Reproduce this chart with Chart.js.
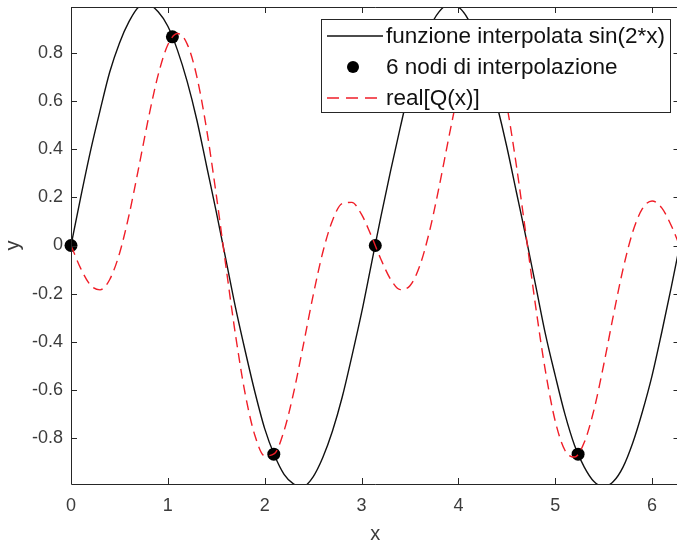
<!DOCTYPE html>
<html lang="it">
<head>
    <meta charset="UTF-8">
    <title>Interpolazione trigonometrica</title>
    <script src="https://cdn.jsdelivr.net/npm/chart.js"></script>
    <style>
        html, body {
            margin: 0;
            padding: 0;
            background: #fff;
            overflow: hidden;
        }
        #plot {
            display: block;
        }
    </style>
</head>
<body>
    <canvas id="plot" width="686" height="544"></canvas>

    <script>
        // sample positions read along the x axis
        const xSamples = [
            0.0, 0.1, 0.2, 0.3, 0.4, 0.5, 0.6, 0.7, 0.8, 0.9,
            1.0, 1.1, 1.2, 1.3, 1.4, 1.5, 1.6, 1.7, 1.8, 1.9,
            2.0, 2.1, 2.2, 2.3, 2.4, 2.5, 2.6, 2.7, 2.8, 2.9,
            3.0, 3.1, 3.2, 3.3, 3.4, 3.5, 3.6, 3.7, 3.8, 3.9,
            4.0, 4.1, 4.2, 4.3, 4.4, 4.5, 4.6, 4.7, 4.8, 4.9,
            5.0, 5.1, 5.2, 5.3, 5.4, 5.5, 5.6, 5.7, 5.8, 5.9,
            6.0, 6.1, 6.2, 6.3
        ];

        // funzione interpolata sin(2*x)
        const sinValues = [
            0.00, 0.20, 0.39, 0.56, 0.72, 0.84, 0.93, 0.99, 1.00, 0.97,
            0.91, 0.81, 0.68, 0.52, 0.33, 0.14, -0.06, -0.26, -0.44, -0.61,
            -0.76, -0.87, -0.95, -0.99, -1.00, -0.96, -0.88, -0.77, -0.63, -0.46,
            -0.28, -0.08, 0.12, 0.31, 0.49, 0.66, 0.79, 0.90, 0.97, 1.00,
            0.99, 0.94, 0.85, 0.73, 0.58, 0.41, 0.22, 0.03, -0.17, -0.37,
            -0.54, -0.70, -0.83, -0.92, -0.98, -1.00, -0.98, -0.92, -0.82, -0.69,
            -0.54, -0.36, -0.17, 0.03
        ];

        // real[Q(x)]
        const realQValues = [
            0.000, -0.095, -0.164, -0.184, -0.141, -0.034, 0.128, 0.325, 0.529, 0.708,
            0.833, 0.880, 0.836, 0.700, 0.483, 0.210, -0.088, -0.375, -0.619, -0.790,
            -0.873, -0.864, -0.769, -0.609, -0.411, -0.208, -0.028, 0.104, 0.174, 0.179,
            0.129, 0.041, -0.057, -0.140, -0.183, -0.167, -0.086, 0.056, 0.241, 0.446,
            0.639, 0.790, 0.872, 0.866, 0.767, 0.582, 0.329, 0.038, -0.259, -0.524,
            -0.729, -0.850, -0.878, -0.817, -0.682, -0.496, -0.291, -0.098, 0.056, 0.153,
            0.185, 0.156, 0.081, -0.017
        ];

        // 6 nodi di interpolazione
        const nodeX = [0, 1.047, 2.094, 3.142, 4.189, 5.236];
        const nodeY = [0, 0.866, -0.866, 0, 0.866, -0.866];

        const xTicks = [0, 1, 2, 3, 4, 5, 6];
        const yTicks = [-0.8, -0.6, -0.4, -0.2, 0, 0.2, 0.4, 0.6, 0.8];
        const yTickLabels = ['-0.8', '-0.6', '-0.4', '-0.2', '0', '0.2', '0.4', '0.6', '0.8'];

        const legendLabels = ['funzione interpolata sin(2*x)', '6 nodi di interpolazione', 'real[Q(x)]'];

        const axisColor = '#262626';
        const textColor = '#3c3c3c';
        const redColor = 'rgb(240, 30, 40)';
        const fontFamily = '"Liberation Sans", Arial, sans-serif';

        const toPoints = (xs, ys) => xs.map((x, i) => ({ x: x, y: ys[i] }));

        // MATLAB-like box with inward ticks and the legend in the top-right corner
        const boxPlugin = {
            id: 'matlabBox',
            afterDatasetsDraw(chart) {
                const ctx = chart.ctx;
                const area = chart.chartArea;
                const xs = chart.scales.x;
                const ys = chart.scales.y;
                const tick = 6;

                ctx.save();
                ctx.strokeStyle = axisColor;
                ctx.lineWidth = 1;
                ctx.beginPath();
                ctx.rect(area.left + 0.5, area.top + 0.5, area.right - area.left, area.bottom - area.top);
                xTicks.forEach(v => {
                    const px = Math.round(xs.getPixelForValue(v)) + 0.5;
                    ctx.moveTo(px, area.bottom);
                    ctx.lineTo(px, area.bottom - tick);
                    ctx.moveTo(px, area.top);
                    ctx.lineTo(px, area.top + tick);
                });
                yTicks.forEach(v => {
                    const py = Math.round(ys.getPixelForValue(v)) + 0.5;
                    ctx.moveTo(area.left, py);
                    ctx.lineTo(area.left + tick, py);
                    ctx.moveTo(area.right, py);
                    ctx.lineTo(area.right - tick, py);
                });
                ctx.stroke();

                // legend
                const lx = 321, ly = 19, lw = 349, lh = 93;
                ctx.fillStyle = '#fff';
                ctx.fillRect(lx, ly, lw, lh);
                ctx.strokeStyle = axisColor;
                ctx.strokeRect(lx + 0.5, ly + 0.5, lw, lh);

                const rows = [36, 67, 98];
                const sx0 = 327, sx1 = 383, tx = 386;

                ctx.lineWidth = 1.3;
                ctx.strokeStyle = '#111';
                ctx.beginPath();
                ctx.moveTo(sx0, rows[0]);
                ctx.lineTo(sx1, rows[0]);
                ctx.stroke();

                ctx.fillStyle = '#000';
                ctx.beginPath();
                ctx.arc((sx0 + sx1) / 2 - 2, rows[1], 6, 0, Math.PI * 2);
                ctx.fill();

                ctx.strokeStyle = redColor;
                ctx.setLineDash([12, 7]);
                ctx.beginPath();
                ctx.moveTo(sx0, rows[2]);
                ctx.lineTo(sx1, rows[2]);
                ctx.stroke();
                ctx.setLineDash([]);

                ctx.fillStyle = '#111';
                ctx.font = '22.5px ' + fontFamily;
                ctx.textBaseline = 'middle';
                ctx.textAlign = 'left';
                legendLabels.forEach((t, i) => ctx.fillText(t, tx, rows[i] + 1));
                ctx.restore();
            }
        };

        new Chart(document.getElementById('plot').getContext('2d'), {
            type: 'line',
            data: {
                datasets: [
                    {
                        label: legendLabels[0],
                        data: toPoints(xSamples, sinValues),
                        borderColor: '#111',
                        borderWidth: 1.4,
                        pointRadius: 0,
                        cubicInterpolationMode: 'monotone',
                        order: 3
                    },
                    {
                        label: legendLabels[1],
                        data: toPoints(nodeX, nodeY),
                        showLine: false,
                        pointRadius: 6.5,
                        pointBackgroundColor: '#000',
                        pointBorderColor: '#000',
                        pointBorderWidth: 0,
                        clip: false,
                        order: 2
                    },
                    {
                        label: legendLabels[2],
                        data: toPoints(xSamples, realQValues),
                        borderColor: redColor,
                        borderWidth: 1.4,
                        borderDash: [10, 6],
                        pointRadius: 0,
                        cubicInterpolationMode: 'monotone',
                        order: 1
                    }
                ]
            },
            options: {
                responsive: false,
                animation: false,
                events: [],
                layout: { padding: { top: 7, right: 2, bottom: 0, left: 0 } },
                plugins: {
                    legend: { display: false },
                    tooltip: { enabled: false }
                },
                scales: {
                    x: {
                        type: 'linear',
                        min: 0,
                        max: 6.2832,
                        grid: { display: false, drawTicks: false },
                        border: { display: false },
                        afterBuildTicks: scale => { scale.ticks = xTicks.map(v => ({ value: v })); },
                        afterFit: scale => {
                            scale.height = 60;
                            scale.paddingLeft = 0;
                            scale.paddingRight = 0;
                        },
                        ticks: {
                            color: textColor,
                            padding: 11,
                            maxRotation: 0,
                            font: { family: fontFamily, size: 18 },
                            callback: v => String(v)
                        },
                        title: {
                            display: true,
                            text: 'x',
                            color: textColor,
                            padding: 0,
                            font: { family: fontFamily, size: 20, lineHeight: 1 }
                        }
                    },
                    y: {
                        type: 'linear',
                        min: -0.99,
                        max: 0.99,
                        grid: { display: false, drawTicks: false },
                        border: { display: false },
                        afterBuildTicks: scale => { scale.ticks = yTicks.map(v => ({ value: v })); },
                        afterFit: scale => {
                            scale.width = 71;
                            scale.paddingTop = 0;
                            scale.paddingBottom = 0;
                        },
                        ticks: {
                            color: textColor,
                            padding: 8,
                            font: { family: fontFamily, size: 18 },
                            callback: (v, i) => yTickLabels[i]
                        },
                        title: {
                            display: true,
                            text: 'y',
                            color: textColor,
                            padding: { top: 3, bottom: 0 },
                            font: { family: fontFamily, size: 20, lineHeight: 1 }
                        }
                    }
                }
            },
            plugins: [boxPlugin]
        });
    </script>
</body>
</html>
